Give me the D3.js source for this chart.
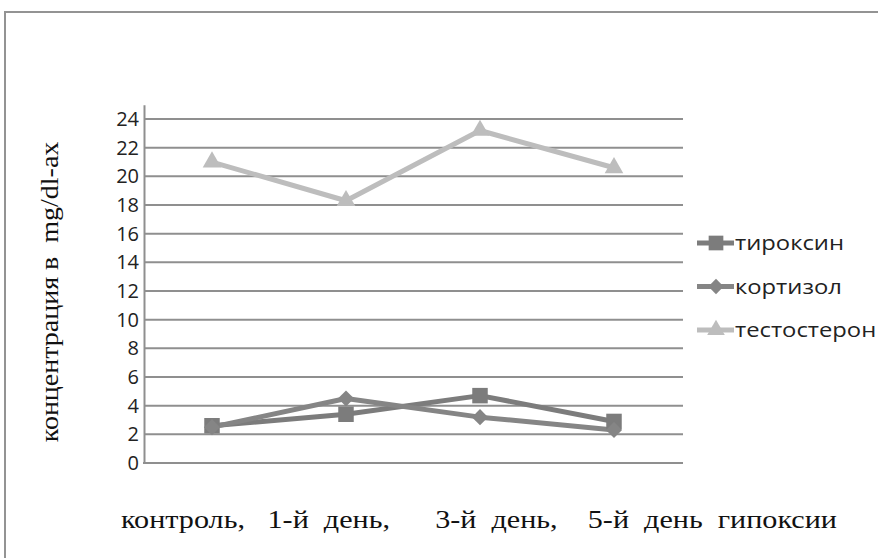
<!DOCTYPE html>
<html><head><meta charset="utf-8">
<script src="https://cdn.jsdelivr.net/npm/d3@7"></script>
<style>body{margin:0;background:#fff}svg{display:block}</style>
</head><body>
<svg id="c" width="878" height="558"></svg>
<script>
const categories = ["контроль,", "1-й день,", "3-й день,", "5-й день гипоксии"];
const tiroksin = [2.6, 3.4, 4.7, 2.9];
const kortizol = [2.5, 4.5, 3.2, 2.3];
const testosteron = [21.0, 18.3, 23.2, 20.6];
const seriesNames = ["тироксин", "кортизол", "тестостерон"];
const yTicks = [0, 2, 4, 6, 8, 10, 12, 14, 16, 18, 20, 22, 24];
const yTitle = "концентрация в  mg/dl-ах";

const svg = d3.select("#c");
svg.append("rect").attr("x", 5).attr("y", 12).attr("width", 1000).attr("height", 800)
  .attr("fill", "#fff").attr("stroke", "#939393").attr("stroke-width", 2);

const x = d3.scaleBand().domain(categories).range([145, 681]);
const y = d3.scaleLinear().domain([0, 25]).range([463, 104.7]);

// gridlines
svg.append("g").selectAll("line").data(yTicks.filter(d => d > 0)).join("line")
  .attr("x1", 145).attr("x2", 683).attr("y1", d => y(d)).attr("y2", d => y(d))
  .attr("stroke", "#8f8f8f").attr("stroke-width", 2);

// axes
const yAxis = svg.append("g").attr("transform", "translate(144,0)")
  .call(d3.axisLeft(y).tickValues(yTicks).tickSize(0).tickPadding(5));
yAxis.select(".domain").attr("stroke", "#8f8f8f").attr("stroke-width", 2);
yAxis.selectAll("text").attr("font-family", "'Open Sans', sans-serif").attr("font-size", 20).attr("fill", "#222");

const xAxis = svg.append("g").attr("transform", "translate(0,463)")
  .call(d3.axisBottom(x).tickSize(0).tickFormat(""));
xAxis.select(".domain").attr("stroke", "#8f8f8f").attr("stroke-width", 2).attr("d", "M143,0H683");

// x labels as one text line (stretched like the original)
const gaps = ["   ", "      ", "    "];
const labelLine = categories.map(c => c.replace(/ /g, "  ")).reduce((a, c, i) => a + gaps[i - 1] + c);
svg.append("g").attr("transform", "translate(121,528) scale(1.16,1)")
  .append("text").attr("font-family", "'Liberation Serif', 'Times New Roman', serif").attr("font-size", 26)
  .attr("fill", "#111").style("white-space", "pre").text(labelLine);

// y title
svg.append("g").attr("transform", "translate(58,292) rotate(-90) scale(1.12,1)")
  .append("text").attr("text-anchor", "middle").attr("font-family", "'Liberation Serif', 'Times New Roman', serif")
  .attr("font-size", 25).attr("fill", "#111").style("white-space", "pre").text(yTitle);

const diamond = {draw(ctx, size) { const r = Math.sqrt(size) / 2 * Math.SQRT2; ctx.moveTo(0, -r); ctx.lineTo(r, 0); ctx.lineTo(0, r); ctx.lineTo(-r, 0); ctx.closePath(); }};
const series = [
  {name: seriesNames[0], values: tiroksin, color: "#7c7c7c", shape: d3.symbolSquare, size: 240},
  {name: seriesNames[1], values: kortizol, color: "#858585", shape: diamond, size: 130},
  {name: seriesNames[2], values: testosteron, color: "#bdbdbd", shape: d3.symbolTriangle, size: 150}
];
const line = d3.line().x((d, i) => x(categories[i]) + x.bandwidth() / 2).y(d => y(d));

series.forEach(s => {
  svg.append("path").datum(s.values).attr("d", line).attr("fill", "none")
    .attr("stroke", s.color).attr("stroke-width", 5).attr("stroke-linejoin", "round");
});
series.forEach(s => {
  svg.append("g").selectAll("path").data(s.values).join("path")
    .attr("transform", (d, i) => `translate(${x(categories[i]) + x.bandwidth() / 2},${y(d)})`)
    .attr("d", d3.symbol().type(s.shape).size(s.size)).attr("fill", s.color);
});

// legend
const lg = svg.append("g");
series.forEach((s, i) => {
  const ly = 243 + i * 43.5;
  lg.append("line").attr("x1", 697).attr("x2", 734).attr("y1", ly).attr("y2", ly)
    .attr("stroke", s.color).attr("stroke-width", 5);
  lg.append("path").attr("transform", `translate(716,${ly})`)
    .attr("d", d3.symbol().type(s.shape).size(s.size * 0.9)).attr("fill", s.color);
  lg.append("g").attr("transform", `translate(735,${ly + 7}) scale(1.16,1)`)
    .append("text").attr("font-family", "'Open Sans', sans-serif")
    .attr("font-size", 20.5).attr("fill", "#222").text(s.name);
});
</script>
</body></html>
